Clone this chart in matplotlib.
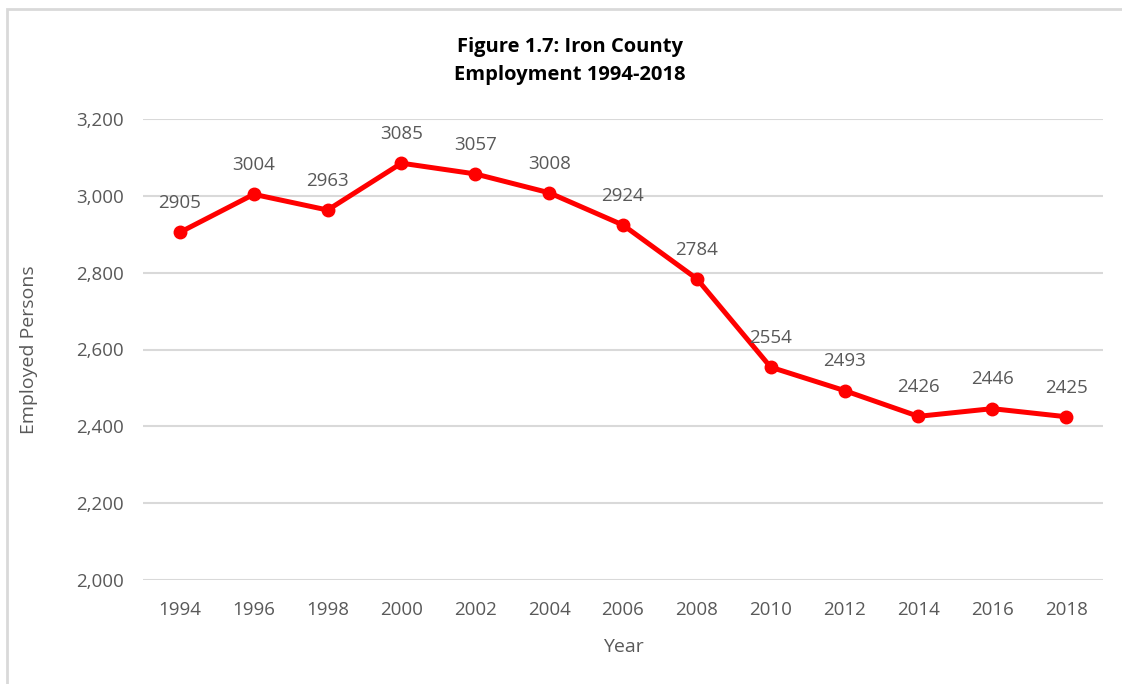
import matplotlib
matplotlib.use("Agg")
import matplotlib.pyplot as plt
from matplotlib.patches import Rectangle

years = ["1994", "1996", "1998", "2000", "2002", "2004", "2006",
         "2008", "2010", "2012", "2014", "2016", "2018"]
employed = [2905, 3004, 2963, 3085, 3057, 3008, 2924,
            2784, 2554, 2493, 2426, 2446, 2425]
y_ticks = [2000, 2200, 2400, 2600, 2800, 3000, 3200]

plt.rcParams['font.family'] = ['Open Sans', 'DejaVu Sans']
TEXT = "#595959"

fig = plt.figure(figsize=(11.22, 6.84), dpi=100)
ax = fig.add_axes([143 / 1122, 1 - 580 / 684, 960 / 1122, 461 / 684])

x = list(range(len(years)))
ax.plot(x, employed, color="#ff0000", linewidth=3.6, marker="o",
        markersize=9, solid_capstyle="round", zorder=3)

for xi, v in zip(x, employed):
    ax.annotate(str(v), (xi, v), xytext=(0, 21), textcoords="offset points",
                ha="center", va="center", fontsize=13.5, color=TEXT)

ax.set_xlim(-0.5, len(years) - 0.5)
ax.set_ylim(2000, 3200)
ax.set_xticks(x)
ax.set_xticklabels(years)
ax.set_yticks(y_ticks)
ax.set_yticklabels([f"{t:,}" for t in y_ticks])
ax.tick_params(length=0, labelsize=13.5, labelcolor=TEXT)
ax.tick_params(axis="x", pad=15)
ax.tick_params(axis="y", pad=14)
ax.grid(axis="y", color="#d9d9d9", linewidth=1.5)
ax.set_axisbelow(True)
for s in ax.spines.values():
    s.set_visible(False)

ax.set_xlabel("Year", fontsize=14, color=TEXT, labelpad=14)
ax.set_ylabel("Employed Persons", fontsize=14, color=TEXT, labelpad=27)

fig.text(570 / 1122, 1 - 61 / 684, "Figure 1.7: Iron County\nEmployment 1994-2018",
         ha="center", va="center", fontsize=14.5, fontweight="bold",
         color="black", linespacing=1.5)

# chart frame
fig.patches.append(Rectangle((7 / 1122, -0.1), 1.2, 1 - 8.5 / 684 + 0.1,
                             transform=fig.transFigure, fill=False,
                             edgecolor="#d9d9d9", linewidth=2))

fig.savefig("out.png", dpi=100)
